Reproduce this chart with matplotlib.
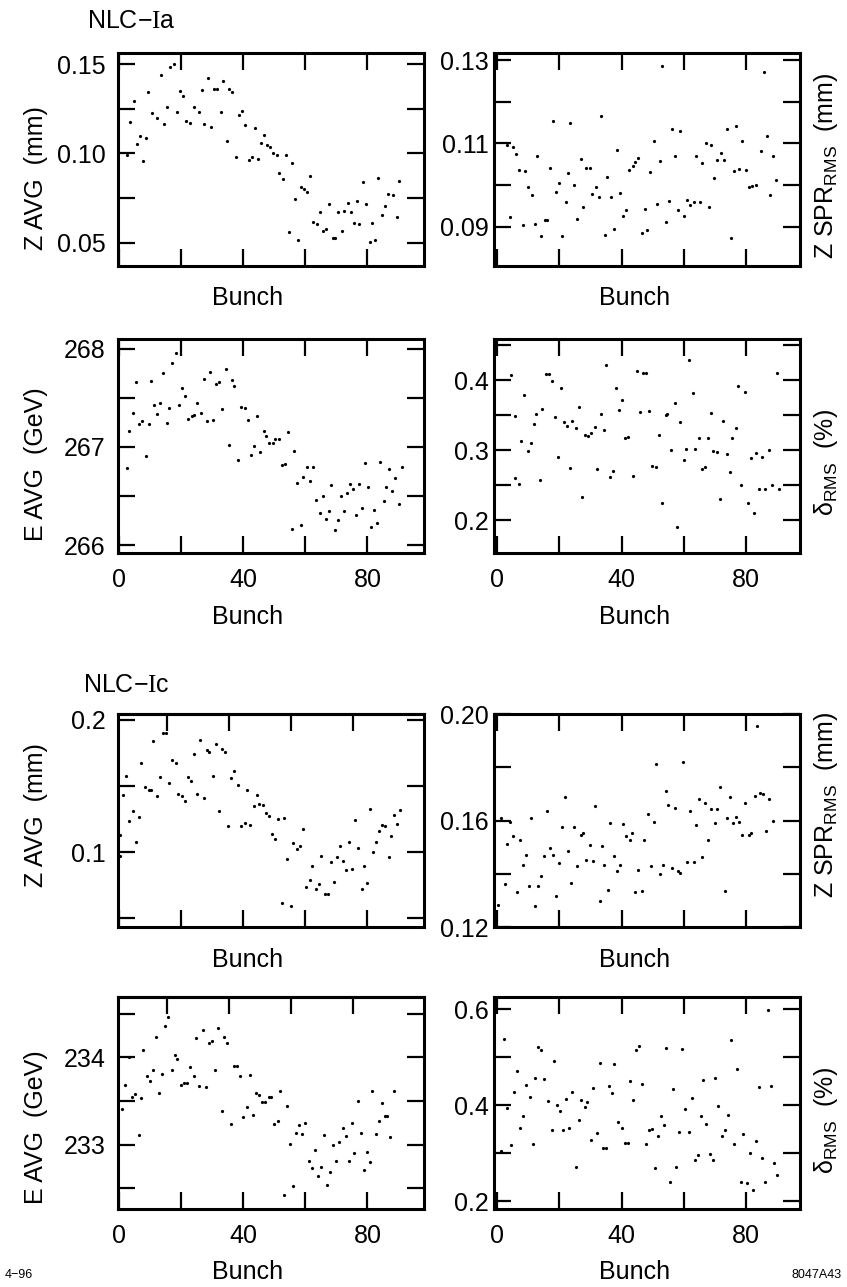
import numpy as np
import matplotlib
matplotlib.use("Agg")
import matplotlib.pyplot as plt
from matplotlib.ticker import FixedLocator, FixedFormatter, NullFormatter

plt.rcParams['font.family'] = ['Liberation Sans', 'DejaVu Sans']
plt.rcParams['mathtext.fontset'] = 'custom'
plt.rcParams['mathtext.rm'] = 'Liberation Serif'
plt.rcParams['mathtext.it'] = 'Liberation Sans:italic'
plt.rcParams['mathtext.bf'] = 'Liberation Sans:bold'

# ---------------- data (bunch, value) ----------------
ia_zavg = [(2.6,0.0989),(3.7,0.1176),(4.8,0.1294),(5.8,0.1052),(6.9,0.1097),(8.0,0.0957),(8.8,0.1088),(9.6,0.1341),
           (10.6,0.1228),(12.3,0.1200),(13.6,0.1440),(14.6,0.1167),(15.7,0.1257),(16.6,0.1485),(17.9,0.1500),(18.7,0.1232),
           (19.6,0.1348),(20.6,0.1322),(21.7,0.1182),(23.0,0.1172),(24.4,0.1260),(25.7,0.1232),(26.7,0.1356),(27.6,0.1163),
           (28.7,0.1421),(29.7,0.1150),(30.7,0.1363),(31.6,0.1360),(32.8,0.1232),(33.7,0.1403),(34.8,0.1069),(35.6,0.1360),
           (36.6,0.1341),(37.8,0.0979),(38.7,0.1215),(39.8,0.1238),(40.8,0.1161),(41.8,0.0962),(42.8,0.0981),(43.7,0.1144),
           (44.7,0.0970),(45.7,0.1060),(46.6,0.1101),(47.6,0.1049),(48.7,0.1037),(49.8,0.1004),(50.8,0.0989),(51.7,0.0888),
           (52.8,0.0858),(53.7,0.0989),(54.8,0.0558),(55.7,0.0944),(56.8,0.0747),(57.6,0.0513),(58.6,0.0811),(59.7,0.0801),
           (60.5,0.0783),(61.6,0.0873),(62.6,0.0614),(63.7,0.0603),(64.6,0.0674),(65.6,0.0564),(66.6,0.0577),(67.5,0.0717),
           (68.8,0.0524),(69.7,0.0528),(70.5,0.0670),(71.8,0.0567),(72.6,0.0679),(73.6,0.0723),(74.6,0.0670),(75.7,0.0611),
           (76.6,0.0732),(77.4,0.0605),(78.5,0.0841),(79.6,0.0717),(80.7,0.0504),(81.6,0.0611),(82.5,0.0513),(83.5,0.0863),
           (84.6,0.0653),(85.7,0.0704),(86.6,0.0773),(88.2,0.0766),(89.4,0.0642),(90.3,0.0845)]

ia_zspr = [(3.2,0.1097),(4.2,0.0923),(5.0,0.1091),(6.2,0.1075),(7.2,0.1037),(8.3,0.0905),(9.1,0.1035),(10.0,0.0995),
           (11.1,0.0976),(12.2,0.0906),(12.8,0.1071),(14.2,0.0877),(15.3,0.0916),(16.1,0.0916),(16.9,0.1041),(17.9,0.1155),
           (19.0,0.0983),(19.8,0.1005),(21.0,0.0877),(22.0,0.0960),(22.9,0.1029),(23.5,0.1149),(24.6,0.1001),(25.8,0.0920),
           (26.8,0.1062),(27.6,0.0947),(28.7,0.1041),(29.8,0.1041),(30.6,0.0979),(31.7,0.0996),(32.6,0.0972),(33.5,0.1166),
           (34.7,0.0880),(35.4,0.1019),(36.5,0.0971),(37.6,0.0894),(38.5,0.1085),(39.5,0.0980),(40.6,0.0925),(41.5,0.0941),
           (42.4,0.1037),(43.5,0.1046),(44.3,0.1055),(45.4,0.1065),(46.4,0.0886),(47.4,0.0944),(48.3,0.0892),(49.2,0.1031),
           (50.3,0.1107),(51.4,0.0955),(52.2,0.1059),(53.1,0.1286),(54.2,0.0912),(55.2,0.0963),(56.1,0.1134),(57.1,0.1071),
           (58.1,0.0941),(58.9,0.1131),(60.1,0.0925),(61.1,0.0965),(62.1,0.0952),(63.2,0.0959),(64.0,0.1071),(65.2,0.0960),
           (65.9,0.1053),(67.0,0.1102),(68.1,0.0947),(68.7,0.1097),(69.8,0.1017),(70.8,0.1061),(71.9,0.1078),(72.8,0.1061),
           (73.9,0.1134),(75.1,0.0873),(76.0,0.1035),(76.7,0.1141),(77.8,0.1039),(78.7,0.1105),(79.8,0.1037),(80.9,0.0996),
           (81.8,0.0999),(83.1,0.1001),(84.7,0.1081),(85.7,0.1271),(86.7,0.1117),(87.8,0.0976),(88.6,0.1069),(89.7,0.1013)]

ia_eavg = [(2.6,266.79),(3.5,267.16),(4.6,267.35),(5.6,267.66),(6.7,267.23),(7.6,267.26),(8.8,266.91),(9.7,267.23),
           (10.4,267.67),(11.5,267.43),(12.5,267.34),(13.3,267.45),(14.2,267.75),(15.5,267.24),(16.3,267.40),(17.3,267.86),
           (18.4,267.96),(19.3,267.43),(20.4,267.60),(21.2,267.52),(22.4,267.29),(23.5,267.32),(24.4,267.33),(25.3,267.45),
           (26.4,267.35),(27.3,267.69),(28.4,267.26),(29.4,267.76),(30.5,267.27),(31.4,267.64),(32.3,267.66),(33.4,267.39),
           (34.4,267.79),(35.5,267.02),(36.3,267.68),(37.2,267.62),(38.5,266.87),(39.5,267.41),(40.5,267.40),(41.5,267.28),
           (42.5,266.92),(43.6,267.01),(44.4,267.32),(45.5,266.95),(46.6,267.16),(47.4,267.11),(48.4,267.04),(49.5,267.04),
           (50.4,267.08),(51.5,267.08),(52.5,266.82),(53.5,266.83),(54.5,267.15),(55.6,266.16),(56.4,266.96),(57.5,266.63),
           (58.6,266.21),(59.4,266.69),(60.5,266.80),(61.5,266.65),(62.5,266.80),(63.5,266.46),(64.6,266.33),(65.6,266.50),
           (66.6,266.27),(67.5,266.35),(68.4,266.61),(69.5,266.15),(70.4,266.26),(71.4,266.50),(72.4,266.35),(73.3,266.53),
           (74.4,266.62),(75.4,266.57),(76.4,266.31),(77.3,266.62),(78.3,266.38),(79.3,266.84),(80.3,266.59),(81.2,266.19),
           (82.2,266.36),(83.2,266.23),(84.1,266.85),(85.2,266.45),(86.0,266.59),(87.1,266.78),(88.0,266.55),(89.0,266.68),
           (90.0,266.42),(91.0,266.80)]

ia_drms = [(4.6,0.407),(5.6,0.349),(5.7,0.260),(6.9,0.252),(7.8,0.313),(8.8,0.379),(9.9,0.299),(10.8,0.310),
           (11.8,0.337),(12.6,0.351),(13.7,0.257),(14.5,0.359),(15.6,0.408),(16.6,0.408),(17.5,0.399),(18.5,0.347),
           (19.6,0.290),(20.6,0.389),(21.5,0.340),(22.5,0.334),(23.5,0.275),(24.2,0.341),(25.3,0.331),(26.3,0.362),
           (27.4,0.233),(28.1,0.321),(29.2,0.320),(30.3,0.324),(31.3,0.333),(32.2,0.273),(33.3,0.351),(34.4,0.328),
           (35.1,0.421),(36.2,0.262),(37.3,0.270),(38.1,0.389),(39.1,0.357),(40.1,0.372),(41.1,0.317),(42.2,0.319),
           (43.7,0.263),(44.9,0.413),(46.0,0.355),(46.8,0.410),(47.9,0.410),(48.8,0.356),(49.9,0.277),(51.0,0.276),
           (52.0,0.322),(53.1,0.224),(54.1,0.350),(54.7,0.352),(56.0,0.300),(57.1,0.367),(57.8,0.190),(58.7,0.340),
           (59.9,0.286),(60.8,0.301),(61.6,0.428),(62.8,0.382),(63.7,0.302),(64.8,0.317),(65.8,0.273),(66.7,0.276),
           (67.6,0.317),(68.6,0.353),(69.4,0.298),(70.6,0.297),(71.7,0.230),(72.6,0.342),(73.7,0.295),(74.8,0.268),
           (75.6,0.317),(76.7,0.331),(77.4,0.392),(78.5,0.250),(79.6,0.383),(80.5,0.225),(81.5,0.289),(82.5,0.210),
           (83.3,0.296),(84.2,0.245),(85.2,0.290),(86.2,0.245),(87.2,0.300),(88.2,0.250),(90.0,0.410),(90.6,0.245)]

ic_zavg = [(0.3,0.0968),(0.5,0.1130),(1.3,0.1435),(2.4,0.1580),(3.5,0.1234),(4.6,0.1310),(5.6,0.1080),(6.6,0.1269),
           (7.2,0.1677),(8.5,0.1490),(9.7,0.1473),(10.3,0.1473),(11.2,0.1843),(12.3,0.1423),(13.3,0.1565),(14.2,0.1900),
           (15.3,0.1905),(16.3,0.1522),(17.3,0.1694),(18.4,0.1677),(19.2,0.1440),(20.3,0.1428),(21.2,0.1390),(22.2,0.1570),
           (23.3,0.1540),(24.3,0.1744),(25.3,0.1440),(26.2,0.1846),(27.5,0.1408),(28.4,0.1776),(29.1,0.1759),(30.3,0.1577),
           (31.2,0.1818),(32.4,0.1310),(33.2,0.1781),(34.2,0.1759),(35.3,0.1197),(36.2,0.1560),(37.2,0.1614),(38.3,0.1507),
           (39.4,0.1197),(40.5,0.1224),(41.4,0.1470),(42.3,0.1204),(43.4,0.1348),(44.5,0.1435),(45.2,0.1366),(46.3,0.1358),
           (47.3,0.1299),(48.4,0.1274),(49.4,0.1134),(50.3,0.1100),(51.4,0.1249),(52.5,0.0619),(53.3,0.1259),(54.3,0.0950),
           (55.4,0.0590),(56.2,0.1072),(57.3,0.1025),(58.4,0.1050),(59.2,0.1174),(60.3,0.0739),(61.4,0.0789),(62.3,0.0893),
           (63.4,0.0724),(64.5,0.0756),(65.1,0.0973),(66.4,0.0687),(67.3,0.0687),(68.2,0.0925),(69.3,0.0776),(70.2,0.0963),
           (71.2,0.1050),(72.3,0.0930),(73.2,0.0868),(74.1,0.1080),(75.2,0.0873),(76.1,0.1241),(77.1,0.1035),(78.2,0.0719),
           (78.9,0.0898),(80.0,0.0764),(80.9,0.1328),(81.9,0.1000),(82.8,0.1080),(83.8,0.1162),(84.8,0.1204),(85.7,0.1199),
           (86.8,0.0963),(87.7,0.1120),(88.7,0.1280),(89.6,0.1210),(90.5,0.1320)]

ic_zspr = [(0.4,0.1282),(1.3,0.1611),(2.4,0.1363),(3.2,0.1513),(4.3,0.1595),(5.1,0.1541),(6.4,0.1332),(7.3,0.1526),
           (8.3,0.1432),(9.3,0.1472),(10.2,0.1353),(10.9,0.1610),(12.2,0.1278),(13.1,0.1353),(14.1,0.1391),(15.0,0.1467),
           (16.0,0.1635),(17.0,0.1495),(18.1,0.1472),(19.0,0.1317),(19.8,0.1441),(20.9,0.1576),(21.7,0.1689),(22.7,0.1485),
           (23.8,0.1366),(24.7,0.1576),(25.7,0.1430),(26.8,0.1547),(27.7,0.1555),(28.6,0.1453),(29.7,0.1507),(30.8,0.1448),
           (31.6,0.1654),(32.9,0.1297),(33.7,0.1503),(34.5,0.1432),(35.6,0.1338),(36.4,0.1591),(37.5,0.1466),(38.6,0.1411),
           (39.5,0.1432),(40.5,0.1586),(41.5,0.1541),(42.6,0.1526),(43.4,0.1554),(44.4,0.1332),(45.4,0.1413),(46.5,0.1335),
           (47.2,0.1528),(48.4,0.1623),(49.3,0.1428),(50.3,0.1595),(51.1,0.1814),(52.2,0.1401),(53.3,0.1434),(54.1,0.1712),
           (54.9,0.1660),(56.2,0.1423),(57.0,0.1648),(58.1,0.1409),(58.9,0.1403),(59.7,0.1821),(61.0,0.1444),(62.1,0.1635),
           (63.1,0.1444),(64.0,0.1585),(64.8,0.1680),(65.9,0.1463),(66.7,0.1664),(67.7,0.1526),(68.8,0.1643),(69.9,0.1589),
           (70.7,0.1643),(71.7,0.1727),(73.1,0.1335),(73.8,0.1608),(74.7,0.1687),(75.8,0.1591),(76.7,0.1614),(77.6,0.1595),
           (78.7,0.1547),(79.5,0.1667),(80.8,0.1547),(81.7,0.1554),(82.7,0.1691),(83.5,0.1955),(84.6,0.1704),(85.5,0.1700),
           (86.5,0.1560),(87.5,0.1680),(88.5,0.1600)]

ic_eavg = [(1.0,233.41),(2.1,233.68),(3.2,234.00),(4.2,233.54),(5.3,233.58),(6.4,233.11),(7.2,233.53),(8.0,234.09),
           (9.1,233.79),(10.1,233.73),(11.0,233.85),(11.9,234.23),(13.0,233.59),(14.1,233.81),(14.9,234.36),(16.0,234.46),
           (17.1,233.85),(18.1,234.03),(18.9,233.98),(20.0,233.68),(21.1,233.71),(21.9,233.71),(23.0,233.89),(24.1,233.79),
           (24.9,234.22),(26.0,233.67),(27.0,234.32),(28.1,233.66),(29.0,234.17),(30.0,234.19),(31.0,233.86),(32.0,234.34),
           (33.2,233.38),(33.9,234.23),(35.0,234.17),(36.2,233.23),(37.0,233.90),(38.0,233.90),(39.0,233.79),(40.1,233.32),
           (41.2,233.43),(42.1,233.80),(43.2,233.34),(44.2,233.59),(45.2,233.57),(46.2,233.49),(47.1,233.49),(48.2,233.54),
           (49.0,233.54),(50.1,233.24),(51.2,233.27),(51.9,233.61),(53.2,232.42),(54.1,233.44),(55.2,233.01),(56.2,232.52),
           (57.1,233.13),(57.9,233.22),(59.0,233.12),(60.0,233.25),(61.1,232.81),(62.2,232.73),(63.0,232.94),(64.1,232.64),
           (65.1,232.74),(66.1,233.11),(66.9,232.53),(68.0,232.68),(68.9,232.99),(70.0,232.81),(71.0,233.03),(72.0,233.19),
           (73.0,233.10),(74.0,232.81),(75.0,233.25),(75.8,232.90),(76.9,233.50),(77.9,233.13),(78.9,232.71),(79.8,232.92),
           (80.7,232.80),(81.6,233.61),(82.7,233.12),(83.6,233.27),(84.6,233.48),(85.5,233.33),(86.2,233.33),(87.3,233.09),
           (88.4,233.61)]

ic_drms = [(1.4,0.304),(2.3,0.538),(3.3,0.394),(4.6,0.316),(5.5,0.428),(6.4,0.472),(7.5,0.353),(8.4,0.378),
           (9.4,0.442),(10.5,0.417),(11.4,0.320),(12.2,0.457),(13.2,0.521),(14.1,0.515),(15.1,0.454),(16.3,0.409),
           (17.5,0.348),(18.2,0.492),(19.2,0.400),(20.2,0.388),(21.2,0.349),(22.1,0.412),(23.2,0.353),(24.0,0.428),
           (25.2,0.271),(26.2,0.369),(27.1,0.410),(28.1,0.397),(29.0,0.407),(30.1,0.327),(30.9,0.436),(32.2,0.341),
           (33.0,0.487),(34.1,0.311),(34.9,0.311),(35.8,0.440),(36.8,0.426),(37.7,0.486),(39.0,0.365),(40.0,0.353),
           (41.1,0.322),(41.9,0.321),(42.7,0.450),(43.8,0.410),(44.5,0.515),(45.6,0.523),(46.5,0.444),(47.8,0.318),
           (48.9,0.349),(49.8,0.351),(50.8,0.268),(51.8,0.335),(52.6,0.377),(53.7,0.358),(54.4,0.520),(55.5,0.240),
           (56.4,0.433),(57.4,0.272),(58.5,0.344),(59.3,0.518),(60.3,0.391),(61.5,0.343),(62.5,0.416),(63.6,0.285),
           (64.4,0.297),(65.4,0.377),(66.2,0.452),(67.1,0.360),(68.4,0.298),(69.5,0.285),(70.0,0.456),(71.1,0.398),
           (72.2,0.336),(73.2,0.349),(74.2,0.379),(75.0,0.537),(76.1,0.318),(77.0,0.475),(78.2,0.240),(79.1,0.339),
           (80.2,0.238),(81.2,0.301),(82.3,0.222),(83.2,0.325),(84.0,0.437),(85.1,0.290),(86.0,0.240),(87.0,0.598),
           (88.0,0.440),(89.0,0.280),(90.0,0.255)]

x_major = [0, 40, 80]
x_major_labels = ['0', '40', '80']
x_minor = [20, 60]

# ---------------- figure ----------------
fig = plt.figure(figsize=(8.47, 12.87), dpi=100)

FS = 18
rows = [(0.7933, 0.1655), (0.5703, 0.1663), (0.2797, 0.1655), (0.0606, 0.1647)]
cols = [(0.1393, 0.3613), (0.5832, 0.3613)]

def make_panel(r, c, data, ylim, major, labels, minor, ylabel, ylab_y, xlabels, xlab_y, shift_top=False):
    x0, w = cols[c]
    y0, h = rows[r]
    ax = fig.add_axes([x0, y0, w, h])
    arr = np.array(data)
    ax.plot(arr[:, 0], arr[:, 1], 'o', ms=2.3, color='black', mec='none')
    ax.set_xlim((-0.2, 98.2) if c == 0 else (-1.0, 97.3))
    ax.set_ylim(*ylim)
    ax.xaxis.set_major_locator(FixedLocator(x_major))
    ax.xaxis.set_minor_locator(FixedLocator(x_minor))
    ax.yaxis.set_major_locator(FixedLocator(major))
    ax.yaxis.set_major_formatter(FixedFormatter(labels))
    ax.yaxis.set_minor_locator(FixedLocator(minor))
    ax.yaxis.set_minor_formatter(NullFormatter())
    ax.xaxis.set_minor_formatter(NullFormatter())
    ax.tick_params(which='both', direction='in', length=12, width=1.6,
                   top=not shift_top, right=True, labelsize=FS)
    ax.tick_params(axis='y', which='both', pad=9 if c == 0 else 4)
    ax.tick_params(axis='x', which='both', pad=11)
    if xlabels:
        ax.xaxis.set_major_formatter(FixedFormatter(x_major_labels))
    else:
        ax.tick_params(axis='x', which='both', labelbottom=False)
    for s in ax.spines.values():
        s.set_linewidth(2.2)
    if shift_top:
        sec = ax.secondary_xaxis('top')
        sec.set_xticks([t - 4.5 for t in [20, 40, 60, 80]])
        sec.tick_params(direction='in', length=12, width=1.6, labeltop=False)
        sec.spines['top'].set_linewidth(2.2)
    ax.set_xlabel('Bunch', fontsize=FS)
    ax.xaxis.set_label_coords(0.425 if c == 0 else 0.461, xlab_y)
    ax.set_ylabel(ylabel, fontsize=FS)
    if c == 0:
        ax.yaxis.set_label_coords(-0.228, ylab_y)
    else:
        ax.yaxis.set_label_position('right')
        ax.yaxis.set_label_coords(1.04, ylab_y)
    return ax

make_panel(0, 0, ia_zavg, (0.0369, 0.1562), [0.05, 0.10, 0.15], ['0.05', '0.10', '0.15'],
           [0.075, 0.125], 'Z AVG  (mm)', 0.413, False, -0.094)
make_panel(0, 1, ia_zspr, (0.0806, 0.1317), [0.09, 0.11, 0.13], ['0.09', '0.11', '0.13'],
           [0.10, 0.12], r'Z SPR$_{\mathregular{RMS}}$  (mm)', 0.47, False, -0.094)
make_panel(1, 0, ia_eavg, (265.92, 268.10), [266, 267, 268], ['266', '267', '268'],
           [266.5, 267.5], 'E AVG  (GeV)', 0.416, True, -0.243)
make_panel(1, 1, ia_drms, (0.1529, 0.4586), [0.2, 0.3, 0.4], ['0.2', '0.3', '0.4'],
           [0.25, 0.35, 0.45], r'δ$_{\mathregular{RMS}}$  (%)', 0.425, True, -0.243)
make_panel(2, 0, ic_zavg, (0.0434, 0.2045), [0.1, 0.2], ['0.1', '0.2'],
           [0.05, 0.15], 'Z AVG  (mm)', 0.526, False, -0.099, shift_top=True)
make_panel(2, 1, ic_zspr, (0.12, 0.20), [0.12, 0.16, 0.20], ['0.12', '0.16', '0.20'],
           [0.14, 0.18], r'Z SPR$_{\mathregular{RMS}}$  (mm)', 0.573, False, -0.099)
make_panel(3, 0, ic_eavg, (232.26, 234.693), [233, 234], ['233', '234'],
           [232.5, 233.5, 234.5], 'E AVG  (GeV)', 0.387, True, -0.241, shift_top=True)
make_panel(3, 1, ic_drms, (0.1833, 0.6257), [0.2, 0.4, 0.6], ['0.2', '0.4', '0.6'],
           [0.3, 0.5], r'δ$_{\mathregular{RMS}}$  (%)', 0.42, True, -0.241)

fig.text(87 / 847, 1 - 28 / 1287, r'NLC−$\mathrm{I}$a', fontsize=FS, va='baseline', ha='left')
fig.text(83 / 847, 1 - 692 / 1287, r'NLC−$\mathrm{I}$c', fontsize=FS, va='baseline', ha='left')
fig.text(5 / 847, 1 - 1278 / 1287, '4−96', fontsize=9, va='baseline', ha='left')
fig.text(842 / 847, 1 - 1278 / 1287, '8047A43', fontsize=9, va='baseline', ha='right')

fig.savefig('out.png', dpi=100)
